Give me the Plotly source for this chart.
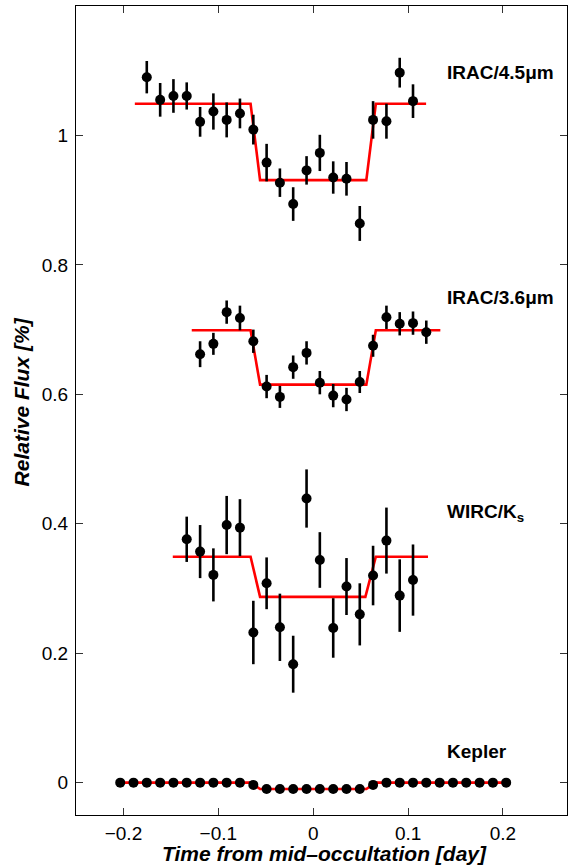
import plotly.graph_objects as go

# ---------------- data ----------------
x_irac45 = [-0.1754, -0.1613, -0.1473, -0.1333, -0.1192, -0.1052, -0.0912, -0.0772,
            -0.0631, -0.0491, -0.0351, -0.0211, -0.0070, 0.0070, 0.0211, 0.0351,
            0.0491, 0.0631, 0.0772, 0.0912, 0.1052]
y_irac45 = [1.090, 1.055, 1.061, 1.061, 1.021, 1.037, 1.024, 1.034, 1.009, 0.958,
            0.927, 0.894, 0.946, 0.973, 0.935, 0.933, 0.864, 1.024, 1.022, 1.097, 1.053]
e_irac45 = [0.025, 0.026, 0.026, 0.021, 0.023, 0.028, 0.027, 0.023, 0.023, 0.029,
            0.022, 0.026, 0.022, 0.028, 0.025, 0.026, 0.027, 0.029, 0.027, 0.023, 0.026]

x_irac36 = [-0.1192, -0.1052, -0.0912, -0.0772, -0.0631, -0.0491, -0.0351, -0.0211,
            -0.0070, 0.0070, 0.0211, 0.0351, 0.0491, 0.0631, 0.0772, 0.0912, 0.1052, 0.1192]
y_irac36 = [0.662, 0.678, 0.727, 0.718, 0.682, 0.612, 0.596, 0.642, 0.664, 0.618,
            0.598, 0.592, 0.619, 0.675, 0.719, 0.709, 0.710, 0.696]
e_irac36 = [0.020, 0.017, 0.018, 0.019, 0.018, 0.018, 0.017, 0.018, 0.018, 0.018,
            0.018, 0.018, 0.017, 0.017, 0.018, 0.018, 0.018, 0.018]

x_wirc = [-0.1333, -0.1192, -0.1052, -0.0912, -0.0772, -0.0631, -0.0491, -0.0351,
          -0.0211, -0.0070, 0.0070, 0.0211, 0.0351, 0.0491, 0.0631, 0.0772, 0.0912, 0.1052]
y_wirc = [0.376, 0.357, 0.321, 0.398, 0.394, 0.232, 0.308, 0.240, 0.183, 0.439,
          0.344, 0.239, 0.303, 0.260, 0.320, 0.374, 0.289, 0.313]
e_wirc = [0.035, 0.041, 0.041, 0.045, 0.044, 0.049, 0.040, 0.052, 0.044, 0.045,
          0.043, 0.046, 0.044, 0.048, 0.046, 0.051, 0.056, 0.055]

x_kepler = [-0.2034, -0.1894, -0.1754, -0.1613, -0.1473, -0.1333, -0.1192, -0.1052,
            -0.0912, -0.0772, -0.0631, -0.0491, -0.0351, -0.0211, -0.0070, 0.0070,
            0.0211, 0.0351, 0.0491, 0.0631, 0.0772, 0.0912, 0.1052, 0.1192, 0.1333,
            0.1473, 0.1613, 0.1754, 0.1894, 0.2034]
y_kepler = [0.0, 0.0, 0.0, 0.0, 0.0, 0.0, 0.0, 0.0, 0.0, 0.0, -0.0035,
            -0.0098, -0.0098, -0.0098, -0.0098, -0.0098, -0.0098, -0.0098, -0.0098,
            -0.0035, 0.0, 0.0, 0.0, 0.0, 0.0, 0.0, 0.0, 0.0, 0.0, 0.0]

# eclipse models (piecewise linear)
mx_irac45 = [-0.188, -0.066, -0.056, 0.056, 0.066, 0.119]
my_irac45 = [1.049, 1.049, 0.931, 0.931, 1.049, 1.049]
mx_irac36 = [-0.128, -0.066, -0.056, 0.056, 0.066, 0.134]
my_irac36 = [0.699, 0.699, 0.615, 0.615, 0.699, 0.699]
mx_wirc = [-0.148, -0.066, -0.056, 0.055, 0.066, 0.121]
my_wirc = [0.349, 0.349, 0.287, 0.287, 0.349, 0.349]
mx_kepler = [-0.2034, -0.066, -0.056, 0.056, 0.066, 0.2034]
my_kepler = [0.0, 0.0, -0.0098, -0.0098, 0.0, 0.0]

band_labels = ["IRAC/4.5\u03bcm", "IRAC/3.6\u03bcm", "WIRC/K<sub>s</sub>", "Kepler"]
label_y = [1.097, 0.750, 0.416, 0.048]
label_x = 0.139

x_ticks = [-0.2, -0.1, 0, 0.1, 0.2]
x_ticktext = ["\u22120.2", "\u22120.1", "0", "0.1", "0.2"]
y_ticks = [0, 0.2, 0.4, 0.6, 0.8, 1.0]
y_ticktext = ["0", "0.2", "0.4", "0.6", "0.8", "1"]

FONT = "Liberation Sans, Arial, sans-serif"

fig = go.Figure()

models = [(mx_irac45, my_irac45), (mx_irac36, my_irac36), (mx_wirc, my_wirc), (mx_kepler, my_kepler)]
for mx, my in models:
    fig.add_trace(go.Scatter(x=mx, y=my, mode="lines",
                             line=dict(color="#ff0000", width=2.6),
                             showlegend=False, hoverinfo="skip"))

datasets = [(x_irac45, y_irac45, e_irac45), (x_irac36, y_irac36, e_irac36),
            (x_wirc, y_wirc, e_wirc), (x_kepler, y_kepler, None)]
for xs, ys, es in datasets:
    kw = {}
    if es is not None:
        kw["error_y"] = dict(type="data", array=es, visible=True, color="black",
                             thickness=2.6, width=0)
    fig.add_trace(go.Scatter(x=xs, y=ys, mode="markers",
                             marker=dict(color="black", size=10),
                             showlegend=False, **kw))

for txt, ly in zip(band_labels, label_y):
    fig.add_annotation(x=label_x, y=ly, xref="x", yref="y", text="<b>" + txt + "</b>",
                       showarrow=False, xanchor="left", yanchor="middle",
                       font=dict(family=FONT, size=19, color="black"))

fig.add_annotation(x=0.506, y=-0.048, xref="paper", yref="paper",
                   text="<b><i>Time from mid\u2013occultation [day]</i></b>",
                   showarrow=False, xanchor="center", yanchor="middle",
                   font=dict(family=FONT, size=21, color="black"))
fig.add_annotation(x=-0.112, y=0.51, xref="paper", yref="paper",
                   text="<b><i>Relative Flux [%]</i></b>", textangle=-90,
                   showarrow=False, xanchor="center", yanchor="middle",
                   font=dict(family=FONT, size=21, color="black"))

axis_common = dict(showgrid=False, zeroline=False, showline=True, linecolor="black",
                   linewidth=1.2, mirror="ticks", ticks="inside", ticklen=7,
                   tickcolor="#333333", tickwidth=1,
                   tickfont=dict(family=FONT, size=19, color="black"))
fig.update_xaxes(range=[-0.25, 0.2675], tickvals=x_ticks, ticktext=x_ticktext,
                 ticklabelstandoff=1, **axis_common)
fig.update_yaxes(range=[-0.05, 1.2], tickvals=y_ticks, ticktext=y_ticktext,
                 ticklabelstandoff=3, **axis_common)

fig.update_layout(width=570, height=865, plot_bgcolor="white", paper_bgcolor="white",
                  margin=dict(l=76, r=3, t=6, b=50, autoexpand=False),
                  font=dict(family=FONT, color="black"))

fig.write_html("out.html", config={"displayModeBar": False},
               post_script="document.body.style.margin='0';document.body.style.overflow='hidden';")
